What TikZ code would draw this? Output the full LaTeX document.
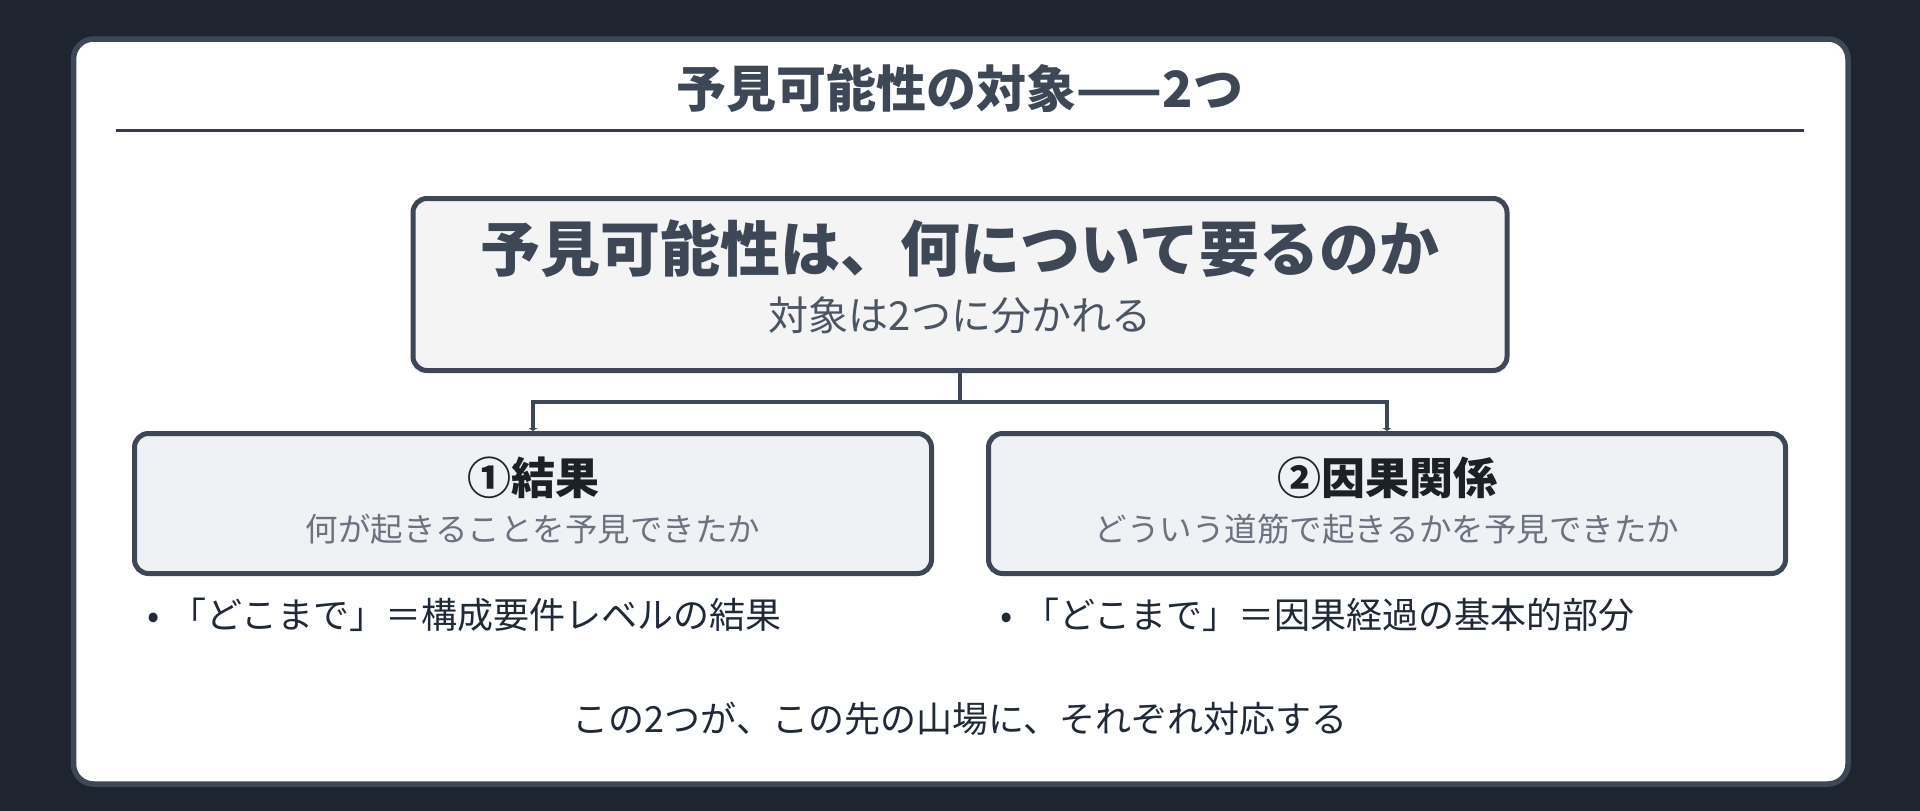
\documentclass[tikz,border=0pt]{standalone}
\usepackage{fontspec}
\setmainfont{Noto Sans CJK JP}
\usetikzlibrary{arrows.meta}

\definecolor{night}{HTML}{1E2530}
\definecolor{slate}{HTML}{3D4756}
\definecolor{ink}{HTML}{1F2937}
\definecolor{deepink}{HTML}{1C2128}
\definecolor{inkgray}{HTML}{4B5563}
\definecolor{softgray}{HTML}{6B7280}
\definecolor{topfill}{HTML}{F4F4F5}
\definecolor{partfill}{HTML}{EFF1F5}
\newcommand{\fsz}[1]{\fontsize{#1}{#1}\selectfont}

\begin{document}
\begin{tikzpicture}[x=1pt, y=-1pt, >={Triangle[width=9pt,length=3pt]},
	card/.style={draw=slate, line width=5.5pt, fill=white, rounded corners=20pt},
	topic/.style={draw=slate, line width=5pt, fill=topfill, rounded corners=14pt, minimum width=1094pt, minimum height=172pt, inner sep=0pt},
	part/.style={draw=slate, line width=5pt, fill=partfill, rounded corners=14pt, minimum width=797pt, minimum height=140pt, inner sep=0pt},
	link/.style={draw=slate, line width=4pt},
	txt/.style={inner sep=0pt}]
	\fill[night] (0,0) rectangle (1920,811);
	\draw[card] (73.5,39) rectangle (1848,784);

	\node[txt, text=slate, font=\fsz{50}\bfseries] (head) at (960,88) {予見可能性の対象——2つ};
	\draw[draw=slate!85!black, line width=3pt] (116,130) -- (1804,130);

	\node[topic] (ask) at (960,284.5) {};
	\node[txt, text=slate, font=\fsz{60}\bfseries] (askhead) at (960,249) {予見可能性は、何について要るのか};
	\node[txt, text=inkgray, font=\fsz{40}] (asksub) at (960,315) {対象は2つに分かれる};

	\node[part] (res) at (533,503.5) {};
	\node[part] (cause) at (1387,503.5) {};
	\node[txt, text=deepink, font=\fsz{44}\bfseries] (reshead) at (533,478) {①結果};
	\node[txt, text=softgray, font=\fsz{32.5}] (ressub) at (533,529) {何が起きることを予見できたか};
	\node[txt, text=deepink, font=\fsz{44}\bfseries] (causehead) at (1387,478) {②因果関係};
	\node[txt, text=softgray, font=\fsz{32.5}] (causesub) at (1387,529) {どういう道筋で起きるかを予見できたか};

	\coordinate (fork) at (960,402);
	\draw[link] (ask) -- (fork);
	\draw[link, ->] (fork) -| (res);
	\draw[link, ->] (fork) -| (cause);

	\node[txt, anchor=west, text=ink, font=\fsz{36}] (resnote) at (147,615) {•\hspace{11pt}「どこまで」＝構成要件レベルの結果};
	\node[txt, anchor=west, text=ink, font=\fsz{36}] (causenote) at (1000,615) {•\hspace{11pt}「どこまで」＝因果経過の基本的部分};

	\node[txt, text=ink, font=\fsz{36}] (coda) at (960,719) {この2つが、この先の山場に、それぞれ対応する};
\end{tikzpicture}
\end{document}
